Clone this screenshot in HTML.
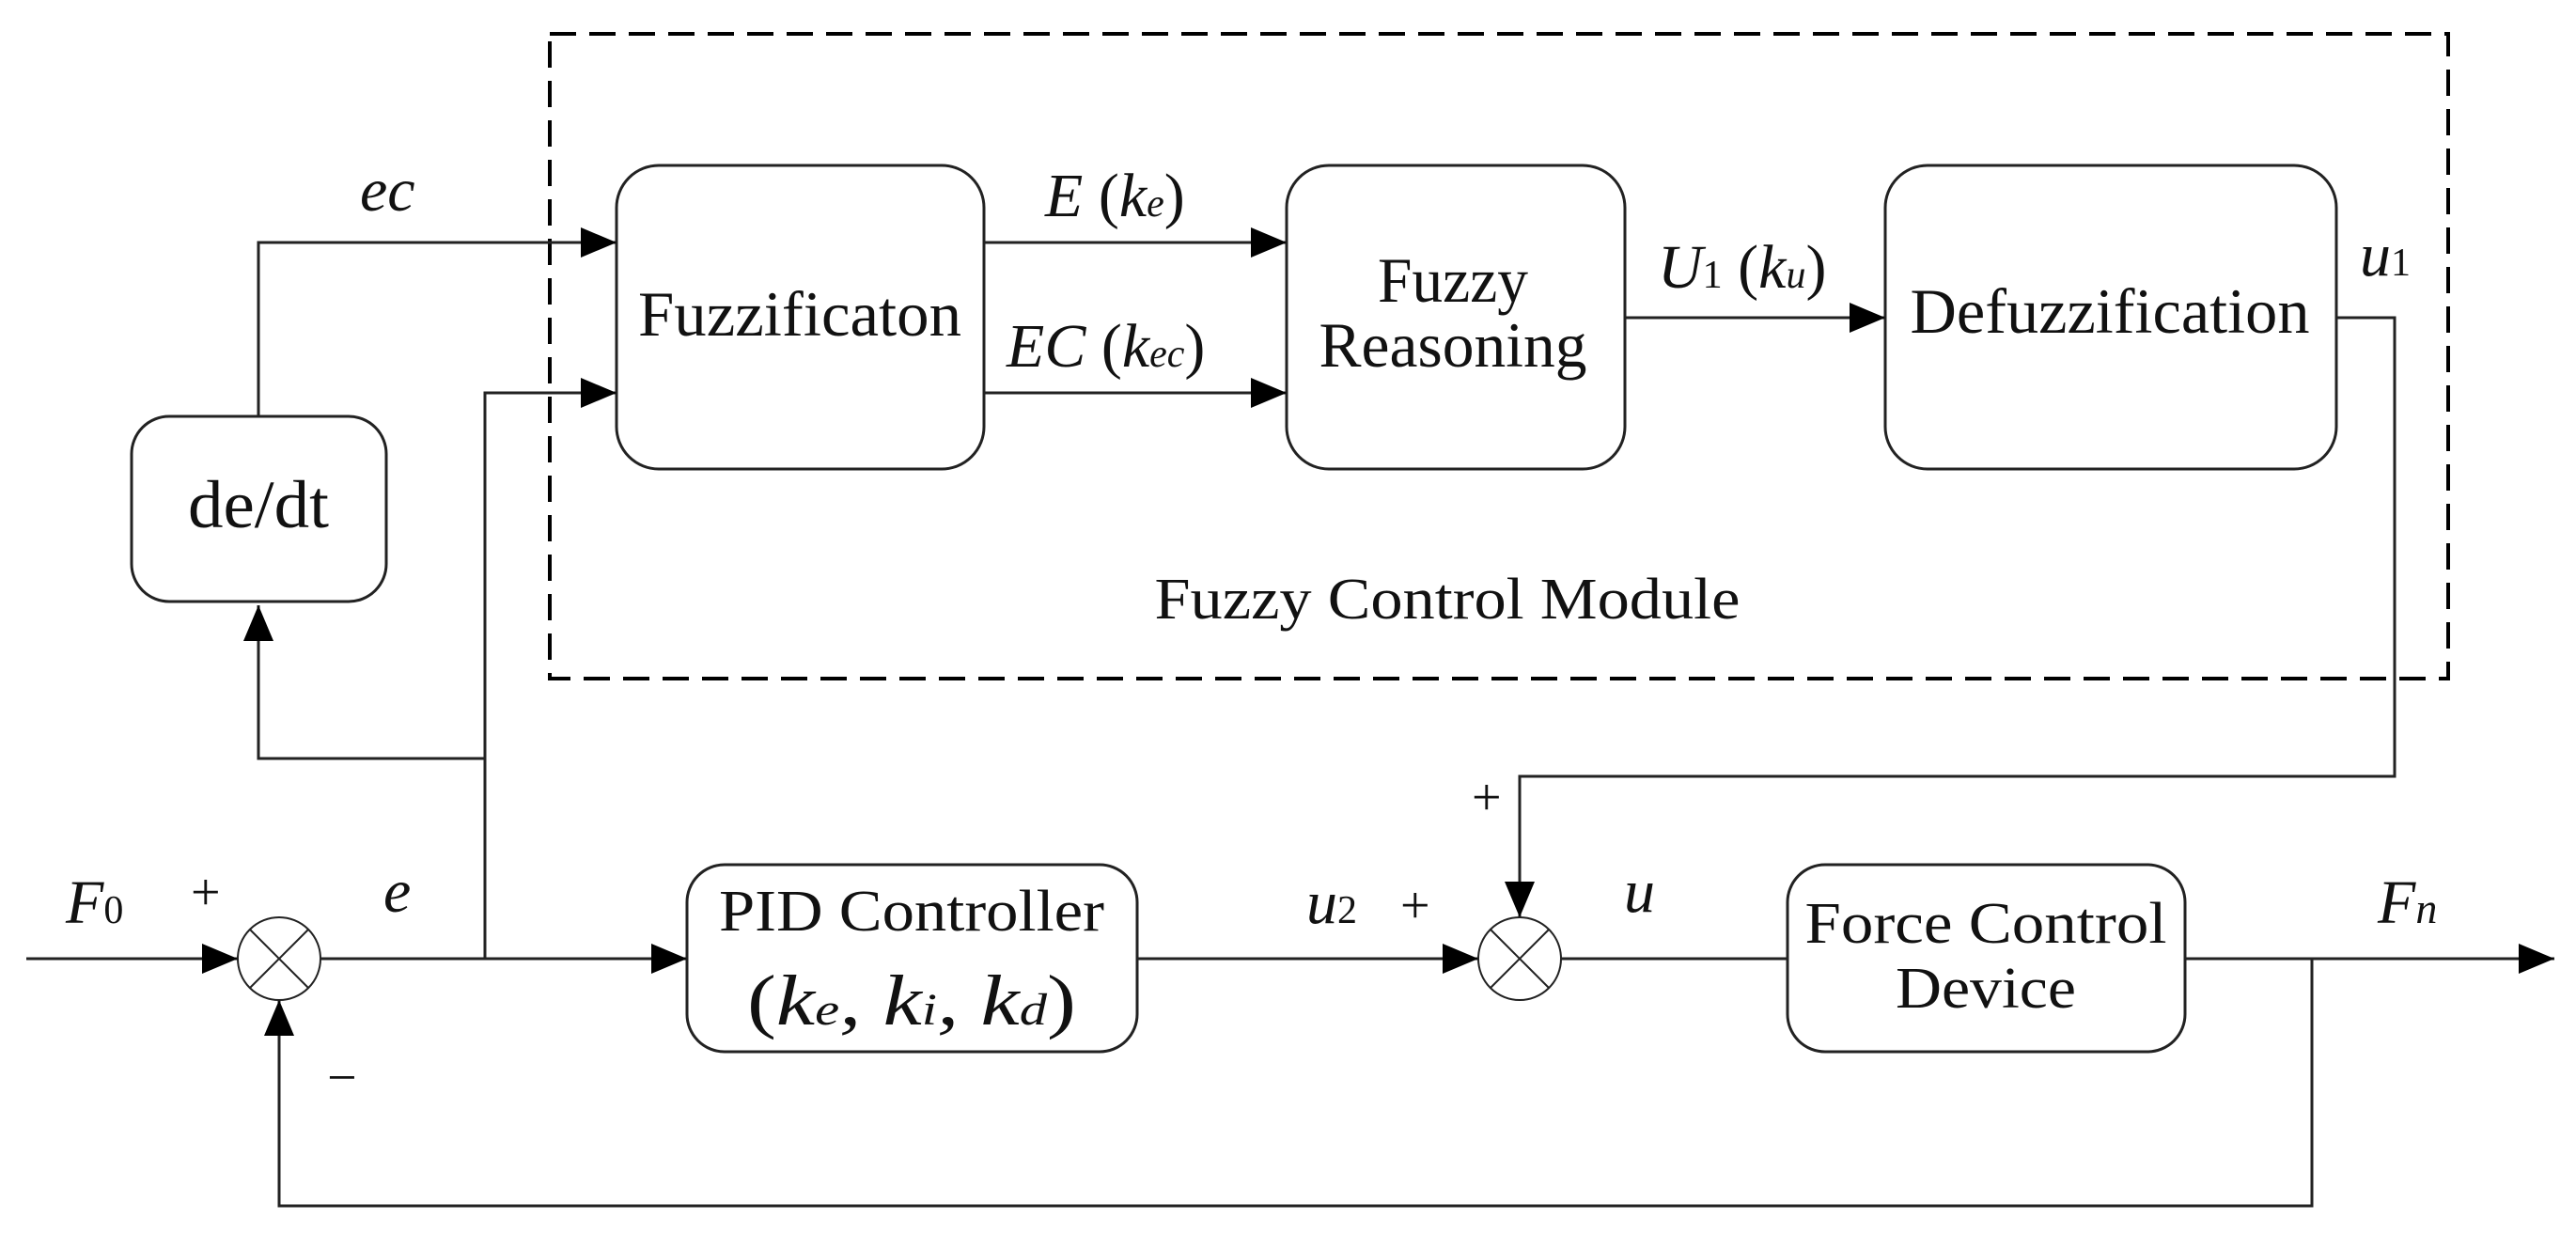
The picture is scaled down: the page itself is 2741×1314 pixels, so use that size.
<!DOCTYPE html>
<html><head><meta charset="utf-8"><style>
html,body{margin:0;padding:0;background:#fff;}
svg{display:block;}
text{font-family:"Liberation Serif",serif;fill:#111;}
.i{font-style:italic;}
</style></head><body>
<svg width="2741" height="1314" viewBox="0 0 2741 1314" xmlns="http://www.w3.org/2000/svg">
<defs>
<marker id="a" markerWidth="38" markerHeight="32" refX="38" refY="16" orient="auto" markerUnits="userSpaceOnUse">
<path d="M0,0 L38,16 L0,32 Z" fill="#000"/></marker>
</defs>
<g fill="none" stroke="#222" stroke-width="3">
<rect x="585" y="36" width="2020" height="686" stroke="#000" stroke-width="4" stroke-dasharray="28,14"/>
<rect x="656" y="176" width="391" height="323" rx="45"/>
<rect x="1369" y="176" width="360" height="323" rx="45"/>
<rect x="2006" y="176" width="480" height="323" rx="45"/>
<rect x="140" y="443" width="271" height="197" rx="40"/>
<rect x="731" y="920" width="479" height="199" rx="40"/>
<rect x="1902" y="920" width="423" height="199" rx="40"/>
<circle cx="297" cy="1020" r="44" stroke-width="2"/>
<line x1="266" y1="989" x2="328" y2="1051" stroke-width="2"/><line x1="328" y1="989" x2="266" y2="1051" stroke-width="2"/>
<circle cx="1617" cy="1020" r="44" stroke-width="2"/>
<line x1="1586" y1="989" x2="1648" y2="1051" stroke-width="2"/><line x1="1648" y1="989" x2="1586" y2="1051" stroke-width="2"/>
<polyline points="275,443 275,258 656,258" marker-end="url(#a)"/>
<polyline points="516,1020 516,418 656,418" marker-end="url(#a)"/>
<line x1="1047" y1="258" x2="1369" y2="258" marker-end="url(#a)"/>
<line x1="1047" y1="418" x2="1369" y2="418" marker-end="url(#a)"/>
<line x1="1729" y1="338" x2="2006" y2="338" marker-end="url(#a)"/>
<polyline points="516,807 275,807 275,644" marker-end="url(#a)"/>
<line x1="28" y1="1020" x2="253" y2="1020" marker-end="url(#a)"/>
<line x1="341" y1="1020" x2="731" y2="1020" marker-end="url(#a)"/>
<line x1="1210" y1="1020" x2="1573" y2="1020" marker-end="url(#a)"/>
<polyline points="2486,338 2548,338 2548,826 1617,826 1617,976" marker-end="url(#a)"/>
<line x1="1661" y1="1020" x2="1902" y2="1020"/>
<line x1="2325" y1="1020" x2="2718" y2="1020" marker-end="url(#a)"/>
<polyline points="2460,1020 2460,1283 297,1283 297,1064" marker-end="url(#a)"/>
</g>
<g font-size="68" text-anchor="middle">
<text x="851" y="357" textLength="344" lengthAdjust="spacingAndGlyphs">Fuzzificaton</text>
<text x="1546" y="321" textLength="160" lengthAdjust="spacingAndGlyphs">Fuzzy</text>
<text x="1546" y="390" textLength="285" lengthAdjust="spacingAndGlyphs">Reasoning</text>
<text x="2245" y="354" textLength="425" lengthAdjust="spacingAndGlyphs">Defuzzification</text>
<text x="275" y="561" font-size="72" textLength="150" lengthAdjust="spacingAndGlyphs">de/dt</text>
<text x="1540" y="658" font-size="62" textLength="623" lengthAdjust="spacingAndGlyphs">Fuzzy Control Module</text>
<text x="970" y="990" font-size="62" textLength="410" lengthAdjust="spacingAndGlyphs">PID Controller</text>
<text x="970" y="1090" font-size="76" textLength="350" lengthAdjust="spacingAndGlyphs"><tspan>(</tspan><tspan class="i">k</tspan><tspan class="i" font-size="48">e</tspan><tspan class="i">, k</tspan><tspan class="i" font-size="48">i</tspan><tspan class="i">, k</tspan><tspan class="i" font-size="48">d</tspan><tspan>)</tspan></text>
<text x="2113" y="1003" font-size="62" textLength="385" lengthAdjust="spacingAndGlyphs">Force Control</text>
<text x="2113" y="1072" font-size="62" textLength="192" lengthAdjust="spacingAndGlyphs">Device</text>
</g>
<g font-size="66">
<text x="383" y="224" class="i">ec</text>
<text x="1112" y="230"><tspan class="i">E</tspan> (<tspan class="i">k</tspan><tspan class="i" font-size="42">e</tspan>)</text>
<text x="1071" y="390"><tspan class="i">EC</tspan> (<tspan class="i">k</tspan><tspan class="i" font-size="42">ec</tspan>)</text>
<text x="1764" y="306"><tspan class="i">U</tspan><tspan font-size="42">1</tspan> (<tspan class="i">k</tspan><tspan class="i" font-size="42">u</tspan>)</text>
<text x="2511" y="293"><tspan class="i">u</tspan><tspan font-size="42">1</tspan></text>
<text x="70" y="982"><tspan class="i">F</tspan><tspan font-size="42">0</tspan></text>
<text x="203" y="968" font-size="56">+</text>
<text x="408" y="970" class="i">e</text>
<text x="348" y="1165" font-size="56">−</text>
<text x="1390" y="982"><tspan class="i">u</tspan><tspan font-size="42">2</tspan></text>
<text x="1490" y="982" font-size="56">+</text>
<text x="1566" y="867" font-size="56">+</text>
<text x="1728" y="970" class="i">u</text>
<text x="2530" y="982"><tspan class="i">F</tspan><tspan class="i" font-size="46">n</tspan></text>
</g>
</svg>
</body></html>
